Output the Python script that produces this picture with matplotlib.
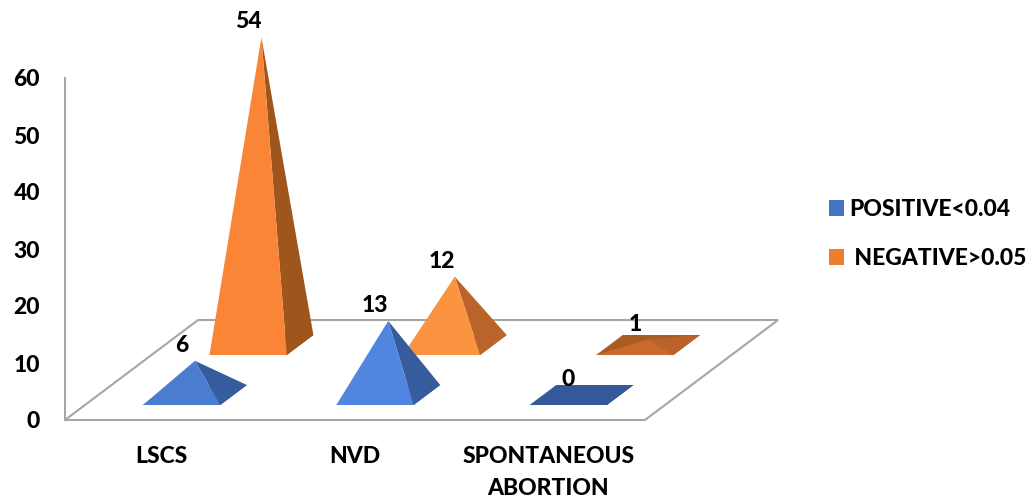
import matplotlib
matplotlib.use('Agg')
import matplotlib.pyplot as plt
from matplotlib.patches import Patch, Polygon

categories = ['LSCS', 'NVD', 'SPONTANEOUS\nABORTION']
positive = [6, 13, 0]
negative = [54, 12, 1]
y_ticks = [0, 10, 20, 30, 40, 50, 60]

series_names = ['POSITIVE<0.04', ' NEGATIVE>0.05']
legend_colors = ['#4472c4', '#ed7d31']

positive_front = ['#4a7ccf', '#5085e0', '#34589a']
positive_side = ['#365c9e', '#365c9e', '#34589a']
positive_base = ['#365c9e', '#365c9e', '#34589a']
negative_front = ['#fb8537', '#fb9440', '#c96a2b']
negative_side = ['#9e561d', '#bb6429', '#b9622a']
negative_base = ['#9e561d', '#bb6429', '#a85c22']

# oblique floor: one unit of depth moves this far along x and up the value axis
DEPTH_X = 0.688
DEPTH_Y = 17.54
PYRAMID_WIDTH = 0.4
GRAY = '#a6a6a6'
FONT_SIZE = 16.5
WEIGHT = 'black'


def project(x, depth, value=0):
    return x + DEPTH_X * depth, value + DEPTH_Y * depth


def draw_pyramid(ax, center, near, far, value, front, side, base):
    fl = project(center - PYRAMID_WIDTH / 2, near)
    fr = project(center + PYRAMID_WIDTH / 2, near)
    br = project(center + PYRAMID_WIDTH / 2, far)
    bl = project(center - PYRAMID_WIDTH / 2, far)
    apex = project(center, (near + far) / 2, value)

    ax.add_patch(Polygon([fl, fr, br, bl], fc=base, ec='none', clip_on=False))
    ax.add_patch(Polygon([fr, br, apex], fc=side, ec='none', clip_on=False))
    ax.add_patch(Polygon([fl, fr, apex], fc=front, ec='none', clip_on=False))

    # value sits above the front of the pyramid
    ax.annotate(str(value), apex, xytext=(-9.5, 11), textcoords='offset points',
                ha='center', va='center', fontsize=FONT_SIZE, fontweight=WEIGHT,
                color='black', annotation_clip=False)


if __name__ == '__main__':

    plt.rcParams['font.family'] = ['Lato', 'DejaVu Sans']

    fig = plt.figure(figsize=(10.36, 4.97), dpi=100)
    ax = fig.add_axes([65 / 1036, 77 / 497, 580 / 1036, 342 / 497])
    ax.set_xlim(0, len(categories))
    ax.set_ylim(0, 60)

    for spine in ['top', 'right', 'bottom']:
        ax.spines[spine].set_visible(False)
    ax.spines['left'].set_color(GRAY)
    ax.spines['left'].set_linewidth(1.5)

    ax.set_yticks(y_ticks)
    ax.set_yticklabels(y_ticks, fontsize=FONT_SIZE, fontweight=WEIGHT)
    ax.tick_params(axis='y', length=0, pad=18)
    ax.set_xticks([i + 0.5 for i in range(len(categories))])
    ax.set_xticklabels(categories, fontsize=FONT_SIZE, fontweight=WEIGHT, linespacing=1.62)
    ax.tick_params(axis='x', length=0, pad=19)

    # floor outline
    n = len(categories)
    floor = [project(0, 0), project(n, 0), project(n, 1), project(0, 1)]
    ax.add_patch(Polygon(floor, fc='white', ec=GRAY, lw=1.5, clip_on=False, zorder=1))

    # back row first so the front row overlaps it
    for i in range(n):
        draw_pyramid(ax, i + 0.5, 0.65, 0.85, negative[i],
                     negative_front[i], negative_side[i], negative_base[i])
    for i in range(n):
        draw_pyramid(ax, i + 0.5, 0.15, 0.35, positive[i],
                     positive_front[i], positive_side[i], positive_base[i])

    handles = [Patch(fc=c, ec='none') for c in legend_colors]
    fig.legend(handles, series_names, loc='center left',
               bbox_to_anchor=(808 / 1036, 1 - 234 / 497), frameon=False,
               handlelength=0.68, handleheight=0.68, handletextpad=0.2,
               labelspacing=1.2, prop={'size': FONT_SIZE, 'weight': WEIGHT})

    fig.savefig('out.png', dpi=100)
